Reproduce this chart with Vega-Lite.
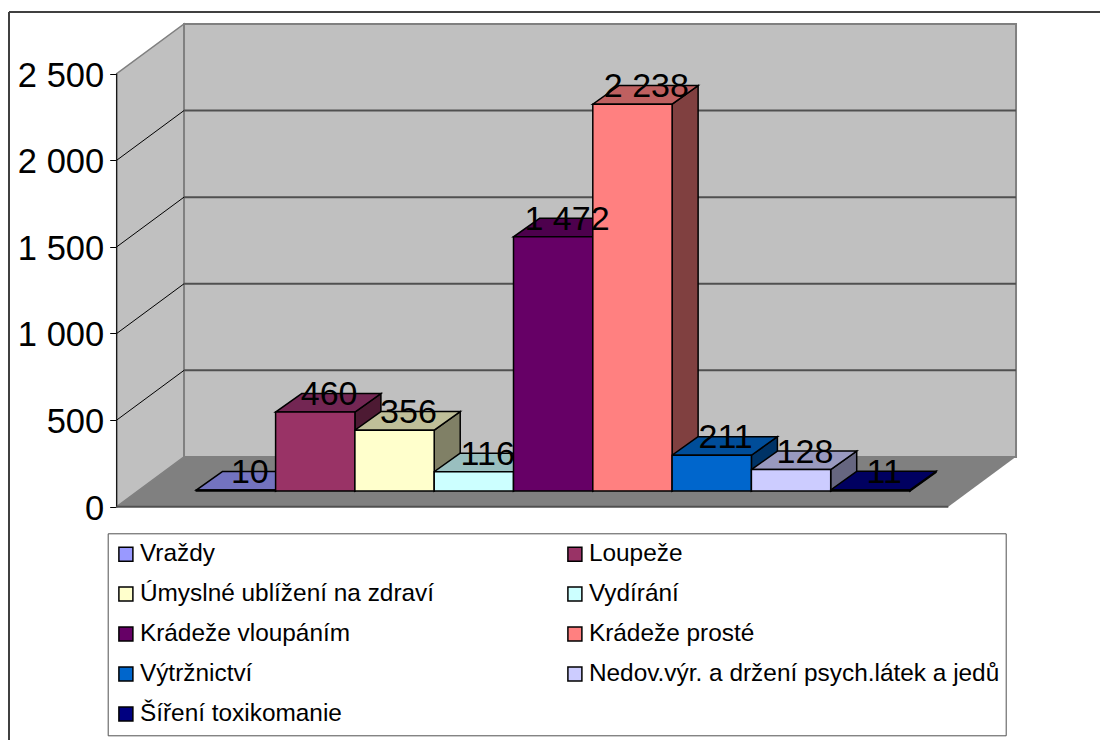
{"$schema":"https://vega.github.io/schema/vega-lite/v6.json","width":1091,"height":728,"autosize":"none","padding":{"left":9,"top":12,"right":0,"bottom":0},"background":"white","config":{"view":{"stroke":null},"font":"Liberation Sans"},
"datasets":{"crimes":[{"name":"Vraždy","value":10},{"name":"Loupeže","value":460},{"name":"Úmyslné ublížení na zdraví","value":356},{"name":"Vydírání","value":116},{"name":"Krádeže vloupáním","value":1472},{"name":"Krádeže prosté","value":2238},{"name":"Výtržnictví","value":211},{"name":"Nedov.výr. a držení psych.látek a jedů","value":128},{"name":"Šíření toxikomanie","value":11}],"depth":[{"t":0},{"t":1}],"ticks":[{"tick":0},{"tick":500},{"tick":1000},{"tick":1500},{"tick":2000},{"tick":2500}],"one":[{"k":1}]},
"layer":[
{"data":{"name":"one"},"mark":{"type":"rule","stroke":"#404040","strokeWidth":2},"encoding":{"x":{"datum":-2.362,"type":"quantitative","scale":{"domain":[-2.362,11.396],"nice":false,"zero":false},"axis":null},"y":{"datum":2856,"type":"quantitative","scale":{"domain":[-1347,2856],"nice":false,"zero":false},"axis":null},"y2":{"datum":-1347}}},
{"data":{"name":"one"},"mark":{"type":"rule","stroke":"#404040","strokeWidth":2},"encoding":{"x":{"datum":-2.362,"type":"quantitative","scale":{"domain":[-2.362,11.396],"nice":false,"zero":false},"axis":null},"x2":{"datum":11.396},"y":{"datum":2856,"type":"quantitative","scale":{"domain":[-1347,2856],"nice":false,"zero":false},"axis":null}}},
{"data":{"name":"depth"},"transform":[{"calculate":"-1.004+0.849*datum.t","as":"x"},{"calculate":"287*datum.t","as":"y"},{"calculate":"2500+287*datum.t","as":"y2"}],"mark":{"type":"area","fill":"#C0C0C0","stroke":"#808080","strokeWidth":1.5},"encoding":{"x":{"field":"x","type":"quantitative","scale":{"domain":[-2.362,11.396],"nice":false,"zero":false},"axis":null},"y":{"field":"y","type":"quantitative","scale":{"domain":[-1347,2856],"nice":false,"zero":false},"axis":null},"y2":{"field":"y2"}}},
{"data":{"name":"one"},"mark":{"type":"rect","fill":"#C0C0C0","stroke":"#808080","strokeWidth":2},"encoding":{"x":{"datum":-0.155,"type":"quantitative","scale":{"domain":[-2.362,11.396],"nice":false,"zero":false},"axis":null},"x2":{"datum":10.337},"y":{"datum":287,"type":"quantitative","scale":{"domain":[-1347,2856],"nice":false,"zero":false},"axis":null},"y2":{"datum":2787}}},
{"data":{"name":"depth"},"transform":[{"calculate":"-1.004+0.849*datum.t","as":"x"},{"calculate":"9.483+0.849*datum.t","as":"x2"},{"calculate":"287*datum.t","as":"y"}],"mark":{"type":"area","orient":"horizontal","fill":"#808080"},"encoding":{"y":{"field":"y","type":"quantitative","scale":{"domain":[-1347,2856],"nice":false,"zero":false},"axis":null},"x":{"field":"x","type":"quantitative","scale":{"domain":[-2.362,11.396],"nice":false,"zero":false},"axis":null},"x2":{"field":"x2"}}},
{"data":{"name":"ticks"},"transform":[{"filter":"datum.tick>0 && datum.tick<2500"},{"calculate":"datum.tick+287","as":"y"}],"mark":{"type":"rule","stroke":"#505050","strokeWidth":2},"encoding":{"x":{"datum":-0.155,"type":"quantitative","scale":{"domain":[-2.362,11.396],"nice":false,"zero":false},"axis":null},"x2":{"datum":10.337},"y":{"field":"y","type":"quantitative","scale":{"domain":[-1347,2856],"nice":false,"zero":false},"axis":null}}},
{"data":{"name":"ticks"},"transform":[{"filter":"datum.tick>0 && datum.tick<2500"},{"calculate":"datum.tick+287","as":"y2"}],"mark":{"type":"rule","stroke":"#000000","strokeWidth":1},"encoding":{"x":{"datum":-1.004,"type":"quantitative","scale":{"domain":[-2.362,11.396],"nice":false,"zero":false},"axis":null},"x2":{"datum":-0.155},"y":{"field":"tick","type":"quantitative","scale":{"domain":[-1347,2856],"nice":false,"zero":false},"axis":null},"y2":{"field":"y2"}}},
{"data":{"name":"one"},"mark":{"type":"rule","stroke":"#000000","strokeWidth":1},"encoding":{"x":{"datum":-1.004,"type":"quantitative","scale":{"domain":[-2.362,11.396],"nice":false,"zero":false},"axis":null},"y":{"datum":0,"type":"quantitative","scale":{"domain":[-1347,2856],"nice":false,"zero":false},"axis":{"values":[0,500,1000,1500,2000,2500],"title":null,"grid":false,"domain":false,"offset":-107.7,"tickColor":"#000000","tickSize":7,"tickWidth":1,"labelPadding":6,"labelOffset":2.5,"labelFont":"Liberation Sans","labelFontSize":34.5,"labelColor":"#000000","labelExpr":"replace(datum.label,',',' ')"}},"y2":{"datum":2500}}},
{"data":{"name":"one"},"mark":{"type":"rule","stroke":"#505050","strokeWidth":2},"encoding":{"x":{"datum":-1.004,"type":"quantitative","scale":{"domain":[-2.362,11.396],"nice":false,"zero":false},"axis":null},"x2":{"datum":9.483},"y":{"datum":0,"type":"quantitative","scale":{"domain":[-1347,2856],"nice":false,"zero":false},"axis":null}}},
{"data":{"name":"crimes"},"transform":[{"window":[{"op":"row_number","as":"n"}]},{"calculate":"datum.n-1","as":"i"},{"calculate":"0","as":"t0"},{"calculate":"1","as":"t1"},{"fold":["t0","t1"],"as":["k","t"]},{"calculate":"datum.i+1+0.328*datum.t","as":"x"},{"calculate":"datum.value+86+107*datum.t","as":"y"},{"calculate":"90.6+107*datum.t","as":"y2"}],"mark":{"type":"area","stroke":"#000000","strokeWidth":1.5},"encoding":{"x":{"field":"x","type":"quantitative","scale":{"domain":[-2.362,11.396],"nice":false,"zero":false},"axis":null},"y":{"field":"y","type":"quantitative","scale":{"domain":[-1347,2856],"nice":false,"zero":false},"axis":null},"y2":{"field":"y2"},"fill":{"field":"name","type":"nominal","legend":null,"scale":{"domain":["Vraždy","Loupeže","Úmyslné ublížení na zdraví","Vydírání","Krádeže vloupáním","Krádeže prosté","Výtržnictví","Nedov.výr. a držení psych.látek a jedů","Šíření toxikomanie"],"range":["#4D4D80","#4D1A33","#808066","#668080","#330033","#804040","#003366","#666680","#000040"]}}}},
{"data":{"name":"crimes"},"transform":[{"window":[{"op":"row_number","as":"n"}]},{"calculate":"datum.n-1","as":"i"},{"calculate":"0","as":"t0"},{"calculate":"1","as":"t1"},{"fold":["t0","t1"],"as":["k","t"]},{"calculate":"datum.i+0.328*datum.t","as":"x"},{"calculate":"datum.i+1+0.328*datum.t","as":"x2"},{"calculate":"datum.value+86+107*datum.t","as":"y"}],"mark":{"type":"area","orient":"horizontal","stroke":"#000000","strokeWidth":1.5},"encoding":{"y":{"field":"y","type":"quantitative","scale":{"domain":[-1347,2856],"nice":false,"zero":false},"axis":null},"x":{"field":"x","type":"quantitative","scale":{"domain":[-2.362,11.396],"nice":false,"zero":false},"axis":null},"x2":{"field":"x2"},"fill":{"field":"name","type":"nominal","legend":null,"scale":{"domain":["Vraždy","Loupeže","Úmyslné ublížení na zdraví","Vydírání","Krádeže vloupáním","Krádeže prosté","Výtržnictví","Nedov.výr. a držení psych.látek a jedů","Šíření toxikomanie"],"range":["#7373BF","#732653","#BFBF99","#99BFBF","#4D004D","#BF6060","#004D99","#9999BF","#000060"]}}}},
{"data":{"name":"crimes"},"transform":[{"window":[{"op":"row_number","as":"n"}]},{"calculate":"datum.n-1","as":"x"},{"calculate":"datum.n","as":"x2"},{"calculate":"datum.value+86","as":"y"},{"calculate":"90.6","as":"y2"}],"mark":{"type":"rect","stroke":"#000000","strokeWidth":1.5},"encoding":{"x":{"field":"x","type":"quantitative","scale":{"domain":[-2.362,11.396],"nice":false,"zero":false},"axis":null},"x2":{"field":"x2"},"y":{"field":"y","type":"quantitative","scale":{"domain":[-1347,2856],"nice":false,"zero":false},"axis":null},"y2":{"field":"y2"},"fill":{"field":"name","type":"nominal","scale":{"domain":["Vraždy","Loupeže","Úmyslné ublížení na zdraví","Vydírání","Krádeže vloupáním","Krádeže prosté","Výtržnictví","Nedov.výr. a držení psych.látek a jedů","Šíření toxikomanie"],"range":["#9999FF","#993366","#FFFFCC","#CCFFFF","#660066","#FF8080","#0066CC","#CCCCFF","#000080"]},"legend":{"title":null,"orient":"none","legendX":98.7,"legendY":521.3,"columns":2,"values":["Vraždy","Úmyslné ublížení na zdraví","Krádeže vloupáním","Výtržnictví","Šíření toxikomanie","Loupeže","Vydírání","Krádeže prosté","Nedov.výr. a držení psych.látek a jedů"],"symbolType":"square","symbolSize":196,"symbolStrokeColor":"#000000","symbolStrokeWidth":1.5,"labelFont":"Liberation Sans","labelFontSize":24.4,"labelColor":"#000000","labelLimit":600,"labelOffset":1.8,"clipHeight":29.5,"rowPadding":10,"columnPadding":128,"padding":6,"strokeColor":"#505050","fillColor":"#FFFFFF","gridAlign":"each"}}}},
{"data":{"name":"crimes"},"transform":[{"window":[{"op":"row_number","as":"n"}]},{"calculate":"datum.n-1+0.5+0.175","as":"x"},{"calculate":"datum.value+90.6","as":"y"},{"calculate":"replace(format(datum.value,','),',',' ')","as":"label"}],"mark":{"type":"text","font":"Liberation Sans","fontSize":34,"align":"center","baseline":"alphabetic","dy":-6,"color":"#000000"},"encoding":{"x":{"field":"x","type":"quantitative","scale":{"domain":[-2.362,11.396],"nice":false,"zero":false},"axis":null},"y":{"field":"y","type":"quantitative","scale":{"domain":[-1347,2856],"nice":false,"zero":false},"axis":null},"text":{"field":"label","type":"nominal"}}}
],
"resolve":{"scale":{"fill":"independent"},"legend":{"fill":"independent"},"axis":{"y":"independent"}}}
